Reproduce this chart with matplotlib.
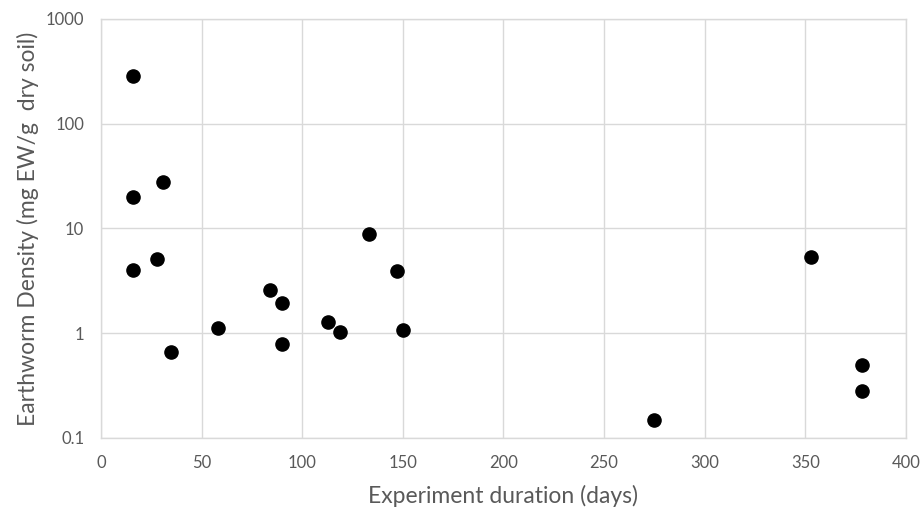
import matplotlib.pyplot as plt
from matplotlib.ticker import FixedLocator, FixedFormatter, NullLocator

# Data
duration_days = [16, 16, 16, 28, 31, 35, 58, 84, 90, 90,
                 113, 119, 133, 147, 150, 275, 353, 378, 378]
density = [286, 20, 4.0, 5.1, 28, 0.66, 1.13, 2.6, 1.95, 0.79,
           1.28, 1.02, 8.9, 3.9, 1.07, 0.148, 5.4, 0.50, 0.284]

y_ticks = [0.1, 1, 10, 100, 1000]
y_tick_labels = ['0.1', '1', '10', '100', '1000']
x_ticks = [0, 50, 100, 150, 200, 250, 300, 350, 400]

plt.rcParams['font.family'] = ['Lato', 'DejaVu Sans']
grey = '#595959'
grid_grey = '#d9d9d9'

fig = plt.figure(figsize=(9.22, 5.09), dpi=100)
ax = fig.add_axes([0.1095, 0.1395, 0.8731, 0.8232])

ax.scatter(duration_days, density, s=90, color='black', zorder=3)

ax.set_yscale('log')
ax.set_ylim(0.1, 1000)
ax.set_xlim(0, 400)
ax.yaxis.set_major_locator(FixedLocator(y_ticks))
ax.yaxis.set_major_formatter(FixedFormatter(y_tick_labels))
ax.yaxis.set_minor_locator(NullLocator())
ax.set_xticks(x_ticks)

ax.grid(True, color=grid_grey, linewidth=1)
ax.set_axisbelow(True)
for sp in ax.spines.values():
    sp.set_color(grid_grey)
    sp.set_linewidth(1)

ax.tick_params(length=0, colors=grey, labelsize=12)
ax.tick_params(axis='x', pad=12)
ax.tick_params(axis='y', pad=12)
ax.set_xlabel('Experiment duration (days)', fontsize=16.5, color=grey, labelpad=10)
ax.set_ylabel('Earthworm Density (mg EW/g  dry soil)', fontsize=16.5, color=grey, labelpad=5)

plt.savefig('out.png', dpi=100)
plt.close()
